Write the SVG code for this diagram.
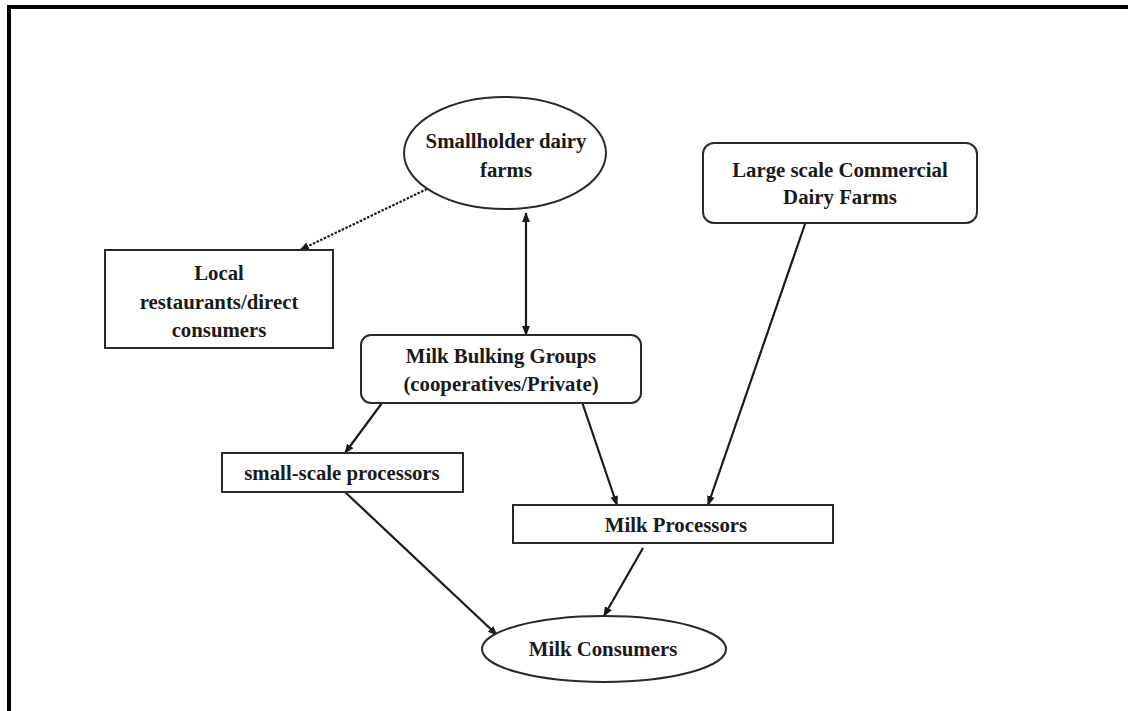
<svg xmlns="http://www.w3.org/2000/svg" width="1128" height="711" viewBox="0 0 1128 711">
<defs>
<marker id="ah" viewBox="0 0 10 10" refX="9" refY="5" markerWidth="4.5" markerHeight="4.5" orient="auto-start-reverse" markerUnits="strokeWidth">
<path d="M0,1 L10,5 L0,9 z" fill="#1a1a1a"/>
</marker>
<style>
.t{font-family:"Liberation Serif","Times New Roman",serif;font-weight:bold;font-size:20.8px;fill:#1a1a1a;text-anchor:middle}
.n{fill:#fff;stroke:#2a2a2a;stroke-width:2}
.c{fill:none;stroke:#1a1a1a;stroke-width:2.2}
</style>
</defs>
<rect width="1128" height="711" fill="#fff"/>
<path d="M9,711 V7 H1128" fill="none" stroke="#000" stroke-width="4"/>
<g id="connectors">
<path class="c" d="M427,189 L300,250" stroke-dasharray="2.5,1.5" marker-end="url(#ah)"/>
<path class="c" d="M526,213 L526,335" marker-start="url(#ah)" marker-end="url(#ah)"/>
<path class="c" d="M382,403 L345,453" marker-end="url(#ah)"/>
<path class="c" d="M582,402 L617,505" marker-end="url(#ah)"/>
<path class="c" d="M805,224 L708,505" marker-end="url(#ah)"/>
<path class="c" d="M345,492 L497,635" marker-end="url(#ah)"/>
<path class="c" d="M643,548 L604,616" marker-end="url(#ah)"/>
</g>
<g id="smallholder">
<ellipse class="n" cx="505" cy="153" rx="101" ry="56"/>
<text class="t" x="506" y="148">Smallholder dairy</text>
<text class="t" x="506" y="177">farms</text>
</g>
<g id="largescale">
<rect class="n" x="703" y="143" width="274" height="80" rx="11"/>
<text class="t" x="840" y="177">Large scale Commercial</text>
<text class="t" x="840" y="204">Dairy Farms</text>
</g>
<g id="local">
<rect class="n" x="105" y="250" width="228" height="98"/>
<text class="t" x="219" y="280">Local</text>
<text class="t" x="219" y="309">restaurants/direct</text>
<text class="t" x="219" y="337">consumers</text>
</g>
<g id="bulking">
<rect class="n" x="361" y="335" width="280" height="68" rx="10"/>
<text class="t" x="501" y="363">Milk Bulking Groups</text>
<text class="t" x="501" y="391">(cooperatives/Private)</text>
</g>
<g id="smallscale">
<rect class="n" x="222" y="453" width="241" height="39"/>
<text class="t" x="342" y="480">small-scale processors</text>
</g>
<g id="processors">
<rect class="n" x="513" y="505" width="320" height="38"/>
<text class="t" x="676" y="532">Milk Processors</text>
</g>
<g id="consumers">
<ellipse class="n" cx="604" cy="649" rx="122" ry="33"/>
<text class="t" x="603" y="656">Milk Consumers</text>
</g>
</svg>
